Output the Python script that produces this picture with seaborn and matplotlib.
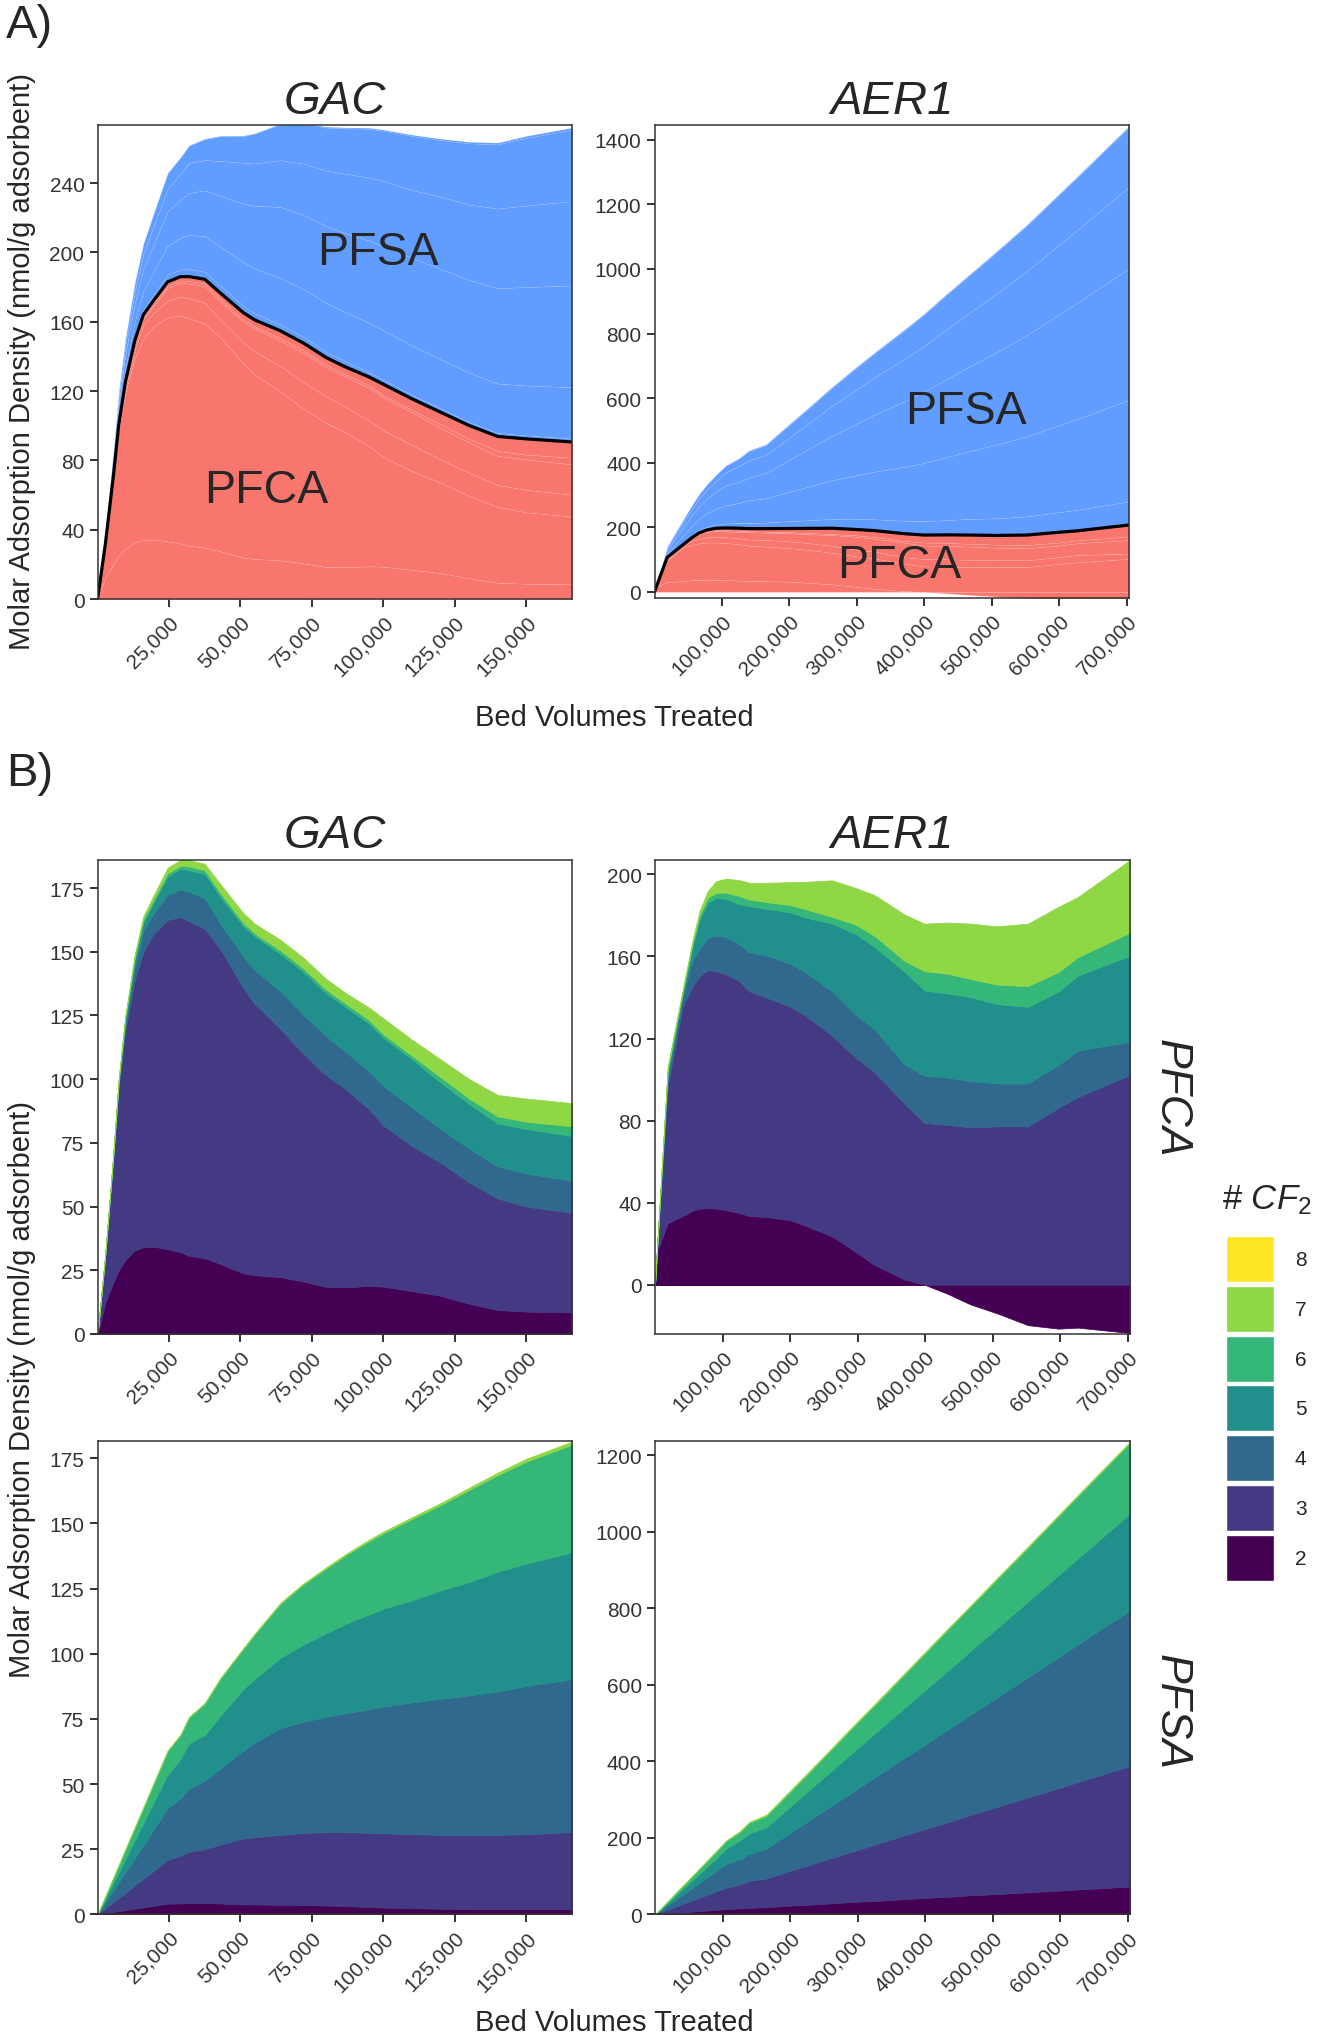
import numpy as np
import matplotlib
matplotlib.use('Agg')
import matplotlib.pyplot as plt
from matplotlib.patches import Patch
import seaborn as sns

W, H = 1319, 2040

# chain length categories and their viridis colours
cf2 = [2, 3, 4, 5, 6, 7, 8]
cf2_colors = ['#440154', '#443A83', '#31688E', '#21908C', '#35B779', '#8FD744', '#FDE725']
pfca_color = '#F8766D'
pfsa_color = '#619CFF'

# bed volumes treated (x) for each adsorbent
bv_gac = [0, 2700, 5600, 7400, 9700, 13000, 16000, 19500, 24500, 29000, 32000, 37500, 43000,
          51000, 55000, 64000, 72000, 80000, 87000, 95000, 100000, 110000, 120000, 130000,
          140000, 150000, 166000]
bv_aer = [0, 4000, 18800, 41000, 55800, 65700, 78100, 90400, 105200, 125000, 139800, 165000,
          200000, 224000, 262000, 297000, 325000, 370000, 399000, 433000, 467000, 506000,
          552000, 597000, 626000, 703000]

# molar adsorption density (nmol/g) per # CF2
gac_pfca = {
    2: [0, 12.4, 20.5, 25.0, 29.0, 32.8, 34.0, 34.3, 33.3, 32.1, 30.7, 29.7, 27.5, 23.8, 23.1,
        22.3, 20.6, 18.5, 18.3, 18.9, 18.6, 16.8, 15.0, 11.9, 9.4, 8.8, 8.5],
    3: [0, 17.6, 49.5, 72.0, 90.0, 106.2, 116.0, 122.7, 129.2, 131.5, 131.3, 129.3, 123.5, 112.0,
        106.4, 97.4, 89.3, 83.0, 77.6, 69.3, 63.3, 57.0, 52.2, 47.6, 43.8, 41.2, 39.1],
    4: [0, 0.8, 1.0, 1.5, 3.0, 5.0, 8.0, 8.0, 9.8, 10.9, 11.5, 12.0, 10.0, 12.2, 13.3, 14.7, 15.4,
        15.4, 14.7, 14.7, 15.4, 15.1, 13.3, 13.3, 12.6, 13.0, 12.6],
    5: [0, 0.4, 0.5, 1.0, 1.5, 3.0, 3.5, 4.0, 7.2, 8.1, 8.5, 9.5, 10.5, 12.0, 13.3, 14.7, 16.8,
        16.8, 17.5, 18.9, 18.9, 18.9, 18.2, 17.5, 16.8, 17.5, 17.5],
    6: [0, 0.1, 0.3, 0.5, 0.8, 1.0, 1.3, 1.5, 1.3, 1.2, 1.5, 1.5, 1.5, 1.3, 1.1, 1.4, 1.4, 1.4,
        1.4, 1.4, 1.4, 1.4, 2.1, 2.1, 2.8, 2.8, 3.8],
    7: [0, 0.2, 0.2, 0.5, 0.7, 1.0, 1.2, 1.5, 2.2, 2.2, 2.5, 2.5, 3.5, 3.9, 3.8, 4.2, 4.2, 4.2,
        4.2, 4.9, 6.3, 6.3, 7.0, 7.7, 8.4, 9.1, 9.1],
}
gac_pfsa = {
    2: [0, 0.45, 0.94, 1.24, 1.6, 2.2, 2.7, 3.3, 4.1, 4.2, 4.3, 4.4, 4.2, 3.8, 3.8, 3.7, 3.6,
        3.4, 3.2, 2.8, 2.6, 2.4, 2.2, 2.0, 2.0, 2.0, 2.0],
    3: [0, 1.85, 3.86, 5.06, 6.7, 8.9, 10.9, 13.3, 16.8, 18.3, 19.7, 20.6, 22.6, 25.4, 25.8,
        26.8, 27.6, 28.2, 28.4, 28.5, 28.5, 28.4, 28.3, 28.5, 28.5, 28.8, 29.6],
    4: [0, 2.2, 4.5, 6.0, 7.8, 10.5, 13.0, 15.8, 19.8, 22.0, 24.3, 26.3, 29.2, 33.6, 36.3, 41.0,
        42.7, 44.2, 45.6, 47.4, 48.6, 50.5, 52.2, 53.5, 55.0, 56.8, 58.7],
    5: [0, 1.4, 3.0, 3.9, 5.1, 6.8, 8.4, 10.3, 12.9, 15.1, 17.4, 17.5, 20.2, 23.7, 24.4, 27.0,
        29.6, 32.1, 34.4, 36.4, 37.6, 39.2, 41.6, 43.5, 46.0, 47.0, 48.6],
    6: [0, 1.0, 2.0, 2.7, 3.6, 4.9, 5.9, 7.2, 9.1, 9.2, 9.9, 12.1, 14.3, 15.4, 17.2, 20.7, 23.1,
        24.8, 26.3, 28.1, 28.9, 31.2, 32.7, 35.3, 37.0, 39.1, 41.3],
    7: [0, 0.05, 0.1, 0.1, 0.1, 0.1, 0.2, 0.2, 0.2, 0.2, 0.2, 0.2, 0.3, 0.3, 0.3, 0.4, 0.4, 0.5,
        0.5, 0.6, 0.7, 0.7, 0.8, 0.9, 1.0, 1.1, 1.2],
}
aer_pfca = {
    2: [0, 17, 30, 33.5, 36.1, 37, 37.4, 37.2, 36.3, 35, 33.5, 33, 31.5, 28.6, 23.6, 16, 9.6,
        2.5, 0, -4.4, -9.6, -13.9, -19.7, -21.4, -20.9, -23.5],
    3: [0, 5, 67, 102.3, 109.4, 113.4, 115.9, 115.6, 115, 113, 109.5, 107, 104, 102.3, 97.9,
        94.6, 94.1, 85.5, 78.9, 77.9, 76.7, 77.2, 77.2, 86.2, 91.5, 102.3],
    4: [0, 0.5, 4, 4.8, 13, 13, 15.8, 17.4, 18.3, 17.9, 19.1, 20.5, 21, 21.1, 21.5, 20.9, 20.9,
        19.1, 23, 23.1, 22.6, 20.9, 20.9, 20.9, 22.6, 16.2],
    5: [0, 0.5, 3, 1.7, 6.5, 14.6, 17.1, 18.4, 18.5, 19.5, 22.5, 22.7, 25, 26.9, 33, 39.5, 40,
        45.3, 41.5, 41, 40.9, 38.7, 37.3, 35.8, 36.6, 41.8],
    6: [0, 0.2, 1, 0.7, 1.7, 1.7, 2.4, 2.4, 3, 4, 3.2, 3.3, 3.5, 4, 3.3, 4.5, 5.4, 5.3, 9.4,
        9.6, 8.8, 9.5, 10.1, 9.5, 9.0, 11.3],
    7: [0, 0.2, 1.5, 0.9, 1.6, 2.4, 3.3, 5.7, 6.8, 7.8, 8.1, 9.4, 11.2, 13.5, 17.8, 17.9, 19.9,
        22.6, 23.2, 24.9, 27, 28.4, 30.5, 31.8, 29.3, 35.4],
}
aer_pfsa = {
    2: [0, 0.5, 2.5, 5.5, 7.4, 8.7, 10.4, 12.0, 14, 16, 17, 19, 23, 25, 29, 33, 35, 40, 43, 46,
        50, 53, 58, 62, 65, 73],
    3: [0, 2.2, 10.0, 21.8, 29.7, 35.0, 41.6, 48.2, 56, 62, 71, 75, 91, 102, 119, 134, 147, 167,
        180, 195, 210, 228, 248, 268, 281, 315],
    4: [0, 2.3, 11.1, 24.1, 32.9, 38.7, 46.0, 53.2, 62, 65, 70, 78, 99, 114, 137, 158, 176, 203,
        220, 242, 262, 286, 314, 342, 360, 407],
    5: [0, 1.5, 6.8, 14.9, 20.1, 23.8, 28.2, 32.6, 40, 50, 54, 56, 69, 78, 92, 105, 115, 131,
        142, 154, 167, 181, 198, 215, 225, 253],
    6: [0, 0.8, 3.7, 8.1, 11.1, 13.1, 15.5, 18.1, 20, 22, 28, 30, 39, 45, 56, 67, 74, 88, 97,
        107, 116, 128, 141, 154, 163, 185],
    7: [0, 0.0, 0.2, 0.5, 0.6, 0.7, 0.8, 0.9, 1.0, 2, 2, 3, 3, 3, 3, 3, 3, 3, 3, 3, 3, 3, 3, 3,
        3, 3],
}

gac_xticks = [25000, 50000, 75000, 100000, 125000, 150000]
aer_xticks = [100000, 200000, 300000, 400000, 500000, 600000, 700000]

sns.set_theme(style='ticks')
plt.rcParams['font.family'] = ['Liberation Sans', 'DejaVu Sans']
plt.rcParams['mathtext.fontset'] = 'custom'
plt.rcParams['mathtext.rm'] = 'Liberation Sans'
plt.rcParams['mathtext.it'] = 'Liberation Sans:italic'

ink = '#333333'
fig = plt.figure(figsize=(W / 100, H / 100), dpi=100)


def add_panel(l, t, r, b):
    return fig.add_axes([l / W, 1 - b / H, (r - l) / W, (b - t) / H])


def stack_area(ax, x, layers, colors, base=None, edge=None, lw=0.5):
    '''
    stack layers like ggplot position_stack: positives up, negatives down
    return top of the positive stack
    '''
    x = np.asarray(x, dtype=float)
    top = np.zeros_like(x) if base is None else np.array(base, dtype=float)
    bottom = np.zeros_like(x)
    for n, col in zip(sorted(layers), colors):
        v = np.asarray(layers[n], dtype=float)
        up, down = np.clip(v, 0, None), np.clip(v, None, 0)
        ec = col if edge is None else edge
        ax.fill_between(x, top, top + up, facecolor=col, edgecolor=ec, linewidth=lw)
        if (down < 0).any():
            ax.fill_between(x, bottom + down, bottom, facecolor=col, edgecolor=ec, linewidth=lw)
        top = top + up
        bottom = bottom + down
    return top


def finish(ax, xmax, ylim, xticks, yticks):
    ax.set_xlim(0, xmax)
    ax.set_ylim(*ylim)
    ax.set_xticks(xticks, [f'{v:,}' for v in xticks])
    ax.set_yticks(yticks, [str(v) for v in yticks])
    plt.setp(ax.get_xticklabels(), rotation=45, ha='right', va='top', rotation_mode='anchor')
    ax.tick_params(length=5.5, width=1.4, color=ink, labelsize=15, labelcolor=ink, pad=4)
    for s in ax.spines.values():
        s.set_visible(True)
        s.set_linewidth(1.1)
        s.set_color(ink)
    ax.set_xlabel('')
    ax.set_ylabel('')
    ax.grid(False)


# ---- A) class totals -------------------------------------------------------
faint = (1, 1, 1, 0.07)
ax = add_panel(97.6, 126, 572, 600)
top = stack_area(ax, bv_gac, gac_pfca, [pfca_color] * 6, edge=faint, lw=0.7)
stack_area(ax, bv_gac, gac_pfsa, [pfsa_color] * 6, base=top, edge=faint, lw=0.7)
sns.lineplot(x=bv_gac, y=top, color='black', lw=2.3, ax=ax)
ax.text(98000, 200, 'PFSA', fontsize=33.5, ha='center', va='center')
ax.text(59000, 63, 'PFCA', fontsize=33.5, ha='center', va='center')
finish(ax, 166000, (0, 273.5), gac_xticks, list(range(0, 241, 40)))
ax.set_title('GAC', fontsize=34, fontstyle='italic', pad=9)

ax = add_panel(654.5, 126, 1129, 599)
top = stack_area(ax, bv_aer, aer_pfca, [pfca_color] * 6, edge=faint, lw=0.7)
stack_area(ax, bv_aer, aer_pfsa, [pfsa_color] * 6, base=top, edge=faint, lw=0.7)
sns.lineplot(x=bv_aer, y=top, color='black', lw=2.3, ax=ax)
ax.text(461000, 559, 'PFSA', fontsize=33.5, ha='center', va='center')
ax.text(363000, 83, 'PFCA', fontsize=33.5, ha='center', va='center')
finish(ax, 703000, (-19, 1446), aer_xticks, list(range(0, 1401, 200)))
ax.set_title('AER1', fontsize=34, fontstyle='italic', pad=9)

# ---- B) by chain length ----------------------------------------------------
pal = sns.color_palette(cf2_colors)
ax = add_panel(97.6, 860.5, 572, 1335)
stack_area(ax, bv_gac, gac_pfca, pal)
finish(ax, 166000, (0, 186.2), gac_xticks, list(range(0, 176, 25)))
ax.set_title('GAC', fontsize=34, fontstyle='italic', pad=9)

ax = add_panel(655, 861, 1130, 1335)
stack_area(ax, bv_aer, aer_pfca, pal)
finish(ax, 703000, (-24, 207), aer_xticks, list(range(0, 201, 40)))
ax.set_title('AER1', fontsize=34, fontstyle='italic', pad=9)
ax.text(1.086, 0.5, 'PFCA', transform=ax.transAxes, rotation=-90, fontsize=32,
        fontstyle='italic', ha='center', va='center')

ax = add_panel(97.6, 1441.5, 572, 1915.4)
stack_area(ax, bv_gac, gac_pfsa, pal)
finish(ax, 166000, (0, 181.8), gac_xticks, list(range(0, 176, 25)))

ax = add_panel(655, 1441.5, 1130, 1915.4)
stack_area(ax, bv_aer, aer_pfsa, pal)
finish(ax, 703000, (0, 1239), aer_xticks, list(range(0, 1201, 200)))
ax.text(1.086, 0.43, 'PFSA', transform=ax.transAxes, rotation=-90, fontsize=32,
        fontstyle='italic', ha='center', va='center')

# ---- shared labels ---------------------------------------------------------
ylab = 'Molar Adsorption Density (nmol/g adsorbent)'
fig.text(22 / W, 1 - 362 / H, ylab, rotation=90, ha='center', va='center', fontsize=21)
fig.text(22 / W, 1 - 1389 / H, ylab, rotation=90, ha='center', va='center', fontsize=21)
fig.text(614 / W, 1 - 718 / H, 'Bed Volumes Treated', ha='center', va='center', fontsize=21)
fig.text(614 / W, 1 - 2023 / H, 'Bed Volumes Treated', ha='center', va='center', fontsize=21)
fig.text(6 / W, 1 - 4 / H, 'A)', ha='left', va='top', fontsize=34)
fig.text(6 / W, 1 - 752 / H, 'B)', ha='left', va='top', fontsize=34)

# legend: title as its own text, keys 8 (top) to 2 (bottom)
fig.text(1222 / W, 1 - 1183 / H, r'# $\mathit{CF}_{2}$', ha='left', va='top', fontsize=25)
handles = [Patch(facecolor=c, edgecolor='white', linewidth=1) for c in cf2_colors][::-1]
labels = [str(n) for n in cf2][::-1]
fig.legend(handles, labels, loc='upper left', bbox_to_anchor=(1226 / W, 1 - 1237 / H),
           frameon=False, fontsize=15, handlelength=2.3, handleheight=3.02,
           labelspacing=0.18, handletextpad=1.0, borderpad=0, borderaxespad=0)

fig.savefig('out.png', dpi=100)
